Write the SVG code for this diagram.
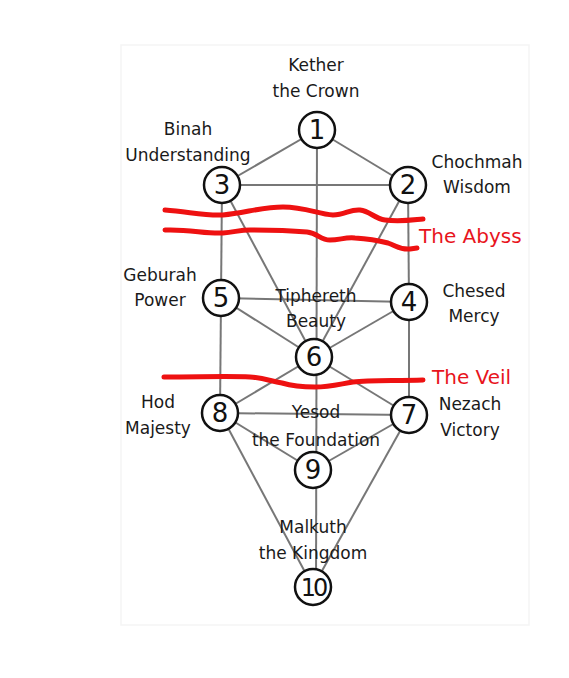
<svg xmlns="http://www.w3.org/2000/svg" width="569" height="678" viewBox="0 0 569 678">
<style>
.lbl{font-family:"DejaVu Sans",Verdana,sans-serif;font-size:17px;fill:#1a1a1a;text-anchor:middle}
.num{font-family:"DejaVu Sans",Verdana,sans-serif;font-size:26px;fill:#111;text-anchor:middle}
.red{font-family:"DejaVu Sans",Verdana,sans-serif;font-size:20px;fill:#e8141c}
.edge{stroke:#777;stroke-width:2;fill:none}
.node circle{fill:#fff;stroke:#111;stroke-width:2.5}
.wave{stroke:#ee1111;stroke-width:5;fill:none;stroke-linecap:round;stroke-linejoin:round}
</style>
<rect x="0" y="0" width="569" height="678" fill="#fff"/>
<rect x="121" y="45" width="408" height="580" fill="#fff" stroke="#f5f5f5" stroke-width="1.5"/>
<g id="connectors">
<line class="edge" x1="317" y1="130" x2="408" y2="185"/>
<line class="edge" x1="317" y1="130" x2="222" y2="185"/>
<line class="edge" x1="317" y1="130" x2="316" y2="587"/>
<line class="edge" x1="222" y1="185" x2="408" y2="185"/>
<line class="edge" x1="408" y1="185" x2="409" y2="302"/>
<line class="edge" x1="408" y1="185" x2="314" y2="357"/>
<line class="edge" x1="222" y1="185" x2="221" y2="298"/>
<line class="edge" x1="222" y1="185" x2="314" y2="357"/>
<line class="edge" x1="221" y1="298" x2="409" y2="302"/>
<line class="edge" x1="409" y1="302" x2="314" y2="357"/>
<line class="edge" x1="409" y1="302" x2="409" y2="415"/>
<line class="edge" x1="221" y1="298" x2="314" y2="357"/>
<line class="edge" x1="221" y1="298" x2="220" y2="413"/>
<line class="edge" x1="314" y1="357" x2="409" y2="415"/>
<line class="edge" x1="314" y1="357" x2="220" y2="413"/>
<line class="edge" x1="220" y1="413" x2="409" y2="415"/>
<line class="edge" x1="409" y1="415" x2="313" y2="470"/>
<line class="edge" x1="409" y1="415" x2="313" y2="587"/>
<line class="edge" x1="220" y1="413" x2="313" y2="470"/>
<line class="edge" x1="220" y1="413" x2="313" y2="587"/>
</g>
<g id="labels">
<text class="lbl" x="316" y="71">Kether</text>
<text class="lbl" x="316" y="97">the Crown</text>
<text class="lbl" x="188" y="135">Binah</text>
<text class="lbl" x="188" y="161">Understanding</text>
<text class="lbl" x="477" y="168">Chochmah</text>
<text class="lbl" x="477" y="193">Wisdom</text>
<text class="lbl" x="160" y="281">Geburah</text>
<text class="lbl" x="160" y="306">Power</text>
<text class="lbl" x="474" y="297">Chesed</text>
<text class="lbl" x="474" y="322">Mercy</text>
<text class="lbl" x="316" y="302">Tiphereth</text>
<text class="lbl" x="316" y="327">Beauty</text>
<text class="lbl" x="158" y="408">Hod</text>
<text class="lbl" x="158" y="434">Majesty</text>
<text class="lbl" x="470" y="410">Nezach</text>
<text class="lbl" x="470" y="436">Victory</text>
<text class="lbl" x="316" y="418">Yesod</text>
<text class="lbl" x="316" y="446">the Foundation</text>
<text class="lbl" x="313" y="533">Malkuth</text>
<text class="lbl" x="313" y="559">the Kingdom</text>
</g>
<g id="n1" class="node"><circle cx="317" cy="130" r="18"/><text class="num" x="317" y="139">1</text></g>
<g id="n2" class="node"><circle cx="408" cy="185" r="18"/><text class="num" x="408" y="194">2</text></g>
<g id="n3" class="node"><circle cx="222" cy="185" r="18"/><text class="num" x="222" y="194">3</text></g>
<g id="n4" class="node"><circle cx="409" cy="302" r="18"/><text class="num" x="409" y="311">4</text></g>
<g id="n5" class="node"><circle cx="221" cy="298" r="18"/><text class="num" x="221" y="307">5</text></g>
<g id="n6" class="node"><circle cx="314" cy="357" r="18"/><text class="num" x="314" y="366">6</text></g>
<g id="n7" class="node"><circle cx="409" cy="415" r="18"/><text class="num" x="409" y="424">7</text></g>
<g id="n8" class="node"><circle cx="220" cy="413" r="18"/><text class="num" x="220" y="422">8</text></g>
<g id="n9" class="node"><circle cx="313" cy="470" r="18"/><text class="num" x="313" y="479">9</text></g>
<g id="n10" class="node"><circle cx="313" cy="587" r="18"/><text class="num" x="313" y="596" style="letter-spacing:-3px;font-size:24px">10</text></g>
<g id="abyss">
<path class="wave" d="M165 210 C190 212,205 216,223 215 C245 213,262 207,283 207 C305 207,318 214,333 215 C345 215,350 209,360 210 C370 211,375 219,385 220 C400 222,412 220,423 219"/>
<path class="wave" d="M165 230 C190 229,205 234,223 233 C235 232,240 230,250 230 C275 230,295 231,307 232 C318 233,320 240,330 240 C340 240,345 237,355 238 C370 239,380 241,388 243 C397 246,400 250,410 249 L417 248"/>
<text class="red" x="419" y="243">The Abyss</text>
</g>
<g id="veil">
<path class="wave" d="M164 377 C200 377,230 376,250 377 C265 378,270 381,282 383 C292 386,300 387,315 387 C330 387,340 384,353 382 C370 380,395 381,423 380"/>
<text class="red" x="432" y="384">The Veil</text>
</g>
</svg>
